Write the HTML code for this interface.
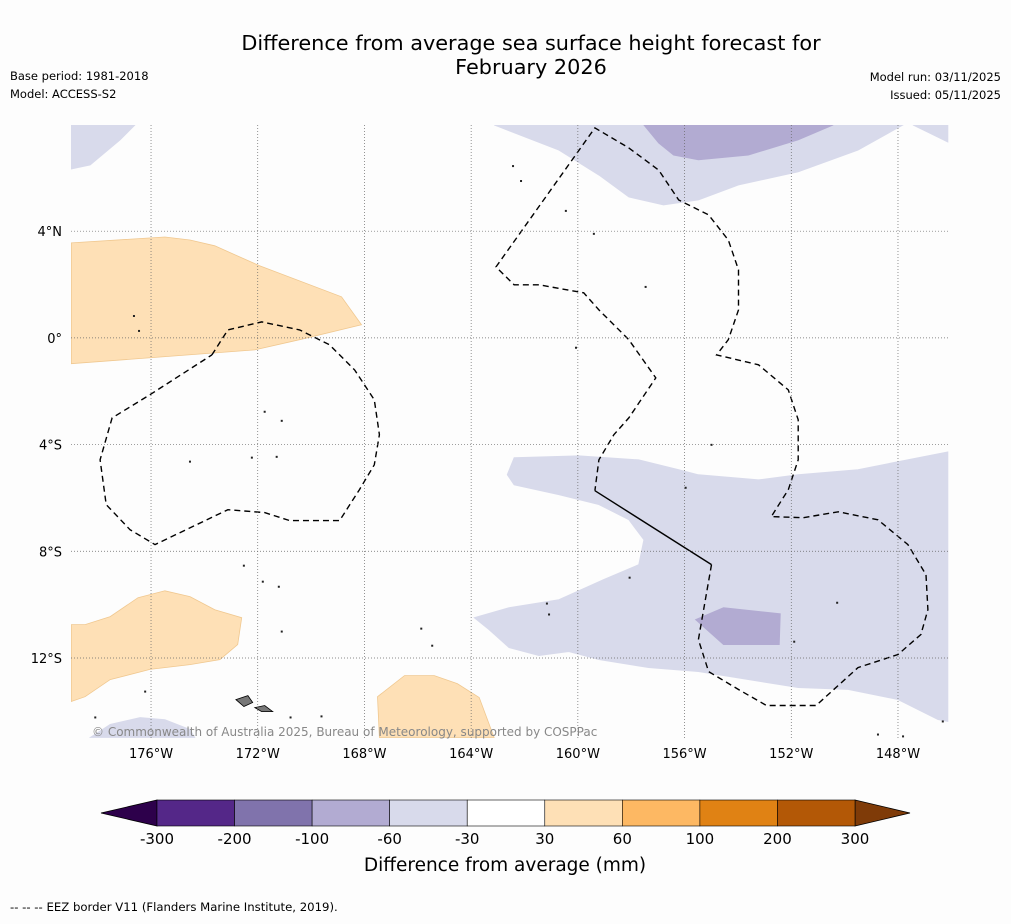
<!DOCTYPE html>
<html><head><meta charset="utf-8"><style>
body{margin:0;background:#fdfdfd;font-family:"Liberation Sans","DejaVu Sans",sans-serif;}
svg text{font-family:"DejaVu Sans","Liberation Sans",sans-serif;}
</style></head><body>
<svg id="chart" width="1011" height="919" xmlns="http://www.w3.org/2000/svg">
<rect width="1011" height="919" fill="#fdfdfd"/>
<text x="531" y="50" font-size="20.8" text-anchor="middle" fill="#000">Difference from average sea surface height forecast for</text>
<text x="531" y="74" font-size="20.8" text-anchor="middle" fill="#000">February 2026</text>
<text x="10" y="80" font-size="11.5">Base period: 1981-2018</text>
<text x="10" y="98" font-size="11.5">Model: ACCESS-S2</text>
<text x="1001" y="81" font-size="11.5" text-anchor="end">Model run: 03/11/2025</text>
<text x="1001" y="99" font-size="11.5" text-anchor="end">Issued: 05/11/2025</text>
<g id="map"></g>
<g id="cbar"></g>
<text x="505" y="871" font-size="18.5" text-anchor="middle">Difference from average (mm)</text>
<text x="10" y="911" font-size="11.7">--  --  -- EEZ border V11 (Flanders Marine Institute, 2019).</text>
</svg>
<script>
const NS="http://www.w3.org/2000/svg";
// map extent
const lonMin=-179, lonMax=-146.05, latMax=7.98, latMin=-15.0;
const X0=71,X1=950,Y0=125,Y1=738;
const lonTicks=[-176,-172,-168,-164,-160,-156,-152,-148];
const latTicks=[4,0,-4,-8,-12];
const lonLabels=["176°W","172°W","168°W","164°W","160°W","156°W","152°W","148°W"];
const latLabels=["4°N","0°","4°S","8°S","12°S"];
// colorbar
const cbLevels=[-300,-200,-100,-60,-30,30,60,100,200,300];
const cbColors=["#542788","#8073ac","#b2abd2","#d8daeb","#ffffff","#fee0b6","#fdb863","#e08214","#b35806"];
const cbExtLow="#2d004b", cbExtHigh="#7f3b08";
// shaded regions [lon,lat] with class value (mm)
const px=x=>-176+(x-151)/26.75, py=y=>(338-y)/26.7;
const P=a=>a.map(p=>[+px(p[0]).toFixed(2),+py(p[1]).toFixed(2)]);
const regionValues=[45,-45,-45,-45,-80,-45,-80,45,45,-45];
const regionShapes=[
P([[71,243],[165,237],[190,240],[215,246],[260,266],[342,297],[362,325],[300,340],[255,350],[71,364]]),
P([[71,125],[135,125],[120,140],[90,165],[71,169]]),
P([[495,125],[905,125],[860,150],[800,172],[740,185],[700,200],[665,205],[630,197],[600,175],[560,150]]),
P([[915,125],[950,125],[950,142]]),
P([[645,125],[835,125],[800,140],[750,155],[700,160],[675,155],[660,143]]),
P([[515,458],[580,456],[640,460],[680,470],[700,475],[760,480],[800,475],[860,470],[950,452],[950,722],[940,720],[900,700],[850,690],[800,688],[750,680],[700,672],[650,668],[600,660],[570,652],[540,656],[510,648],[490,630],[475,618],[510,608],[560,600],[605,580],[640,565],[645,540],[630,520],[600,505],[560,495],[515,485],[508,475]]),
P([[697,620],[725,608],[782,614],[781,645],[725,645]]),
P([[71,625],[85,625],[110,617],[138,598],[165,591],[190,597],[215,610],[242,618],[238,645],[220,660],[190,665],[150,670],[110,680],[85,697],[71,702]]),
P([[378,697],[405,676],[435,676],[458,684],[480,698],[495,738],[380,738]]),
P([[90,738],[110,725],[140,718],[165,720],[190,730],[195,738]])
];
const eezLeft=P([[212,355],[228,330],[262,322],[300,330],[330,345],[355,370],[375,400],[380,435],[375,465],[360,490],[340,521],[290,521],[265,513],[228,510],[155,545],[130,530],[106,505],[100,460],[112,418],[150,395],[212,355]]);
const eezRight=P([[713,565],[700,640],[710,672],[740,690],[768,706],[818,706],[860,668],[900,655],[923,635],[930,610],[928,575],[910,545],[880,520],[840,512],[805,518],[773,517],[790,490],[800,460],[800,420],[790,390],[760,365],[718,355],[730,340],[740,310],[740,270],[730,240],[710,215],[680,200],[660,170],[630,148],[596,128],[497,267],[515,285],[540,285],[585,293],[600,310],[630,340],[657,378],[630,418],[615,435],[600,460],[596,491]]);
const eezSolid=P([[596,491],[713,565]]);
const islands=P([[134,316],[139,331],[265,412],[282,421],[190,462],[252,458],[277,457],[514,166],[522,181],[567,211],[595,234],[647,287],[577,348],[713,445],[687,488],[631,578],[548,604],[550,615],[244,566],[263,582],[279,587],[282,632],[422,629],[433,646],[839,603],[796,642],[145,692],[95,718],[291,718],[322,717],[880,735],[905,737],[945,722]]);
const bigIslands=[P([[236,700],[248,696],[253,703],[244,707]]),P([[255,708],[265,706],[273,712],[262,712]])];

const xs=lon=>X0+(lon-lonMin)/(lonMax-lonMin)*(X1-X0);
const ys=lat=>Y0+(latMax-lat)/(latMax-latMin)*(Y1-Y0);
function colorFor(v){for(let i=0;i<cbColors.length;i++){if(v>=cbLevels[i]&&v<cbLevels[i+1])return cbColors[i];}return v<0?cbExtLow:cbExtHigh;}
function el(tag,attrs,parent){const e=document.createElementNS(NS,tag);for(const k in attrs)e.setAttribute(k,attrs[k]);parent.appendChild(e);return e;}
const pts=a=>a.map(p=>xs(p[0]).toFixed(1)+","+ys(p[1]).toFixed(1)).join(" ");
const map=document.getElementById("map");
const clip=el("clipPath",{id:"mc"},map);
el("rect",{x:X0,y:Y0,width:X1-X0,height:Y1-Y0},clip);
const g=el("g",{"clip-path":"url(#mc)"},map);
regionShapes.forEach((s,i)=>{const c=colorFor(regionValues[i]);const p=el("polygon",{points:pts(s),fill:c,stroke:regionValues[i]>0?"#f0c890":c,"stroke-width":0.8},g);

});
lonTicks.forEach((t,i)=>{const x=xs(t);const l=el("line",{x1:x,x2:x,y1:Y0,y2:Y1,stroke:"#666","stroke-width":0.7,"stroke-dasharray":"1,2"},map);


const tx=el("text",{x:x,y:758,"font-size":13,"text-anchor":"middle"},map);tx.textContent=lonLabels[i];

});
latTicks.forEach((t,i)=>{const y=ys(t);const l=el("line",{x1:X0,x2:X1,y1:y,y2:y,stroke:"#666","stroke-width":0.7,"stroke-dasharray":"1,2"},map);


const tx=el("text",{x:62,y:y+5,"font-size":13,"text-anchor":"end"},map);tx.textContent=latLabels[i];

});
[eezLeft,eezRight].forEach(s=>{const p=el("polyline",{points:pts(s),fill:"none",stroke:"#000","stroke-width":1.4,"stroke-dasharray":"6,4"},g);

});
const sl=el("polyline",{points:pts(eezSolid),fill:"none",stroke:"#000","stroke-width":1.4},g);


islands.forEach(p=>{const r=el("rect",{x:xs(p[0])-1,y:ys(p[1])-1,width:2,height:2,fill:"#222"},g);

});
bigIslands.forEach(s=>{const p=el("polygon",{points:pts(s),fill:"#777",stroke:"#000","stroke-width":0.8},g);

});
const cp=el("text",{x:92,y:736,"font-size":12,fill:"#888"},map);cp.textContent="© Commonwealth of Australia 2025, Bureau of Meteorology, supported by COSPPac";


// colorbar
const cb=document.getElementById("cbar");
const CB0=157,CB1=855,CBY=800,CBH=26;
const seg=(CB1-CB0)/cbColors.length;
const lo=el("polygon",{points:`101,${CBY+CBH/2} ${CB0},${CBY} ${CB0},${CBY+CBH}`,fill:cbExtLow,stroke:"#000","stroke-width":0.8},cb);


const hi=el("polygon",{points:`910,${CBY+CBH/2} ${CB1},${CBY} ${CB1},${CBY+CBH}`,fill:cbExtHigh,stroke:"#000","stroke-width":0.8},cb);


cbColors.forEach((c,i)=>{const r=el("rect",{x:CB0+i*seg,y:CBY,width:seg,height:CBH,fill:c,stroke:"#000","stroke-width":0.6},cb);

});
cbLevels.forEach((v,i)=>{const t=el("text",{x:CB0+i*seg,y:844,"font-size":15,"text-anchor":"middle"},cb);t.textContent=v;

});
</script>
</body></html>
